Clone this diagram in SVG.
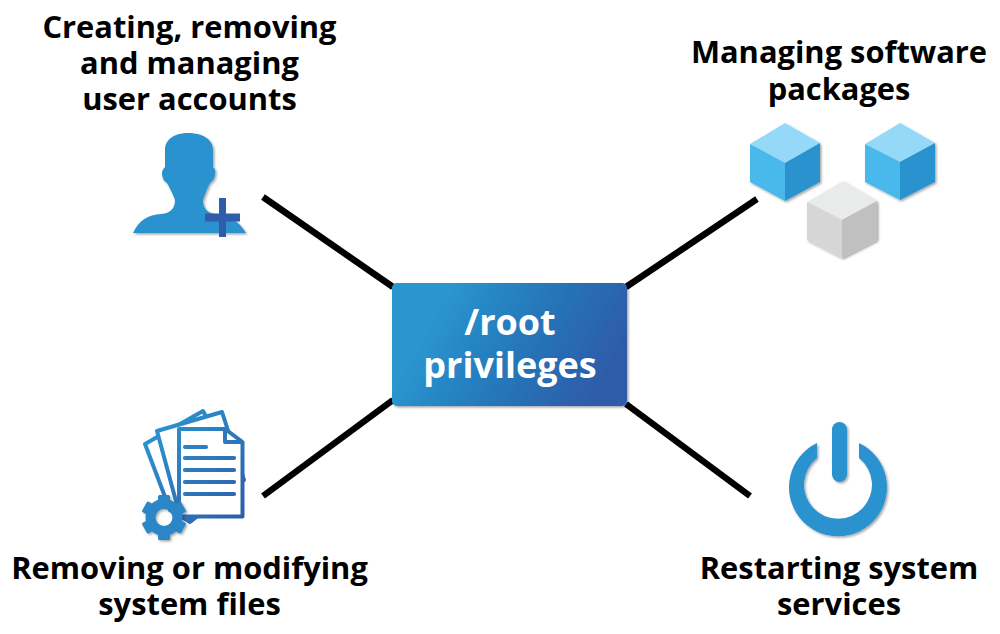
<svg xmlns="http://www.w3.org/2000/svg" width="1000" height="634" viewBox="0 0 1000 634">
<style>
.lbl{font-family:"Open Sans","Liberation Sans",sans-serif;font-weight:700;font-size:30.850px;fill:#000;text-anchor:middle}
.ctr{font-family:"Open Sans","Liberation Sans",sans-serif;font-weight:700;font-size:36px;fill:#fff;text-anchor:middle}
.conn{stroke:#000;stroke-width:6.500;fill:none}
.doc{fill:#fff;stroke:url(#gDoc);stroke-width:4;stroke-linejoin:round}
.ln{stroke:url(#gDoc);stroke-width:4.200;stroke-linecap:round;fill:none}
</style>
<defs>
<linearGradient id="gBox" gradientUnits="userSpaceOnUse" x1="440" y1="300" x2="600" y2="390">
<stop offset="0" stop-color="#2a96d0"/><stop offset=".5" stop-color="#2577ba"/><stop offset="1" stop-color="#2f5ba8"/>
</linearGradient>
<linearGradient id="gDoc" gradientUnits="userSpaceOnUse" x1="145" y1="430" x2="245" y2="520">
<stop offset="0" stop-color="#2a96d0"/><stop offset="1" stop-color="#2f5ba8"/>
</linearGradient>
<filter id="sh" x="-10%" y="-10%" width="125%" height="125%">
<feDropShadow dx="1.500" dy="1.500" stdDeviation="1" flood-color="#000" flood-opacity=".35"/>
</filter>
<rect id="tooth" x="158" y="495" width="12" height="14" rx="1.500"/>
</defs>
<g id="connectors">
<line class="conn" x1="263" y1="197" x2="393" y2="287"/>
<line class="conn" x1="626" y1="287" x2="757" y2="199"/>
<line class="conn" x1="263" y1="496" x2="393" y2="400"/>
<line class="conn" x1="626" y1="404" x2="750" y2="496"/>
</g>
<g id="root">
<rect x="392" y="283" width="235" height="123" rx="5" fill="url(#gBox)" filter="url(#sh)"/>
<text class="ctr" x="510" y="335">/root</text>
<text class="ctr" x="510" y="378">privileges</text>
</g>
<g id="users">
<text class="lbl" x="189.500" y="38">Creating, removing</text>
<text class="lbl" x="189.500" y="74">and managing</text>
<text class="lbl" x="189.500" y="110">user accounts</text>
<path filter="url(#sh)" fill="#2a93cf" d="M133 233C139 220 148 215 161 214C172 213 175 207 175 200C173 194 170 189 167 183C163 181 162 176 162 173C162 170 164 168 165 167L165 150C165 139 175 133 188 133C202 133 213 139 213 150L213 167C215 169 216 171 215 174C215 178 213 181 210 183C207 189 205 194 203 200C203 207 206 213 216 214C229 215 238 220 246 233Z"/>
<path fill="#2f5dab" d="M219 198h7v15.500h14v8h-14v15.500h-7v-15.500h-14v-8h14z"/>
</g>
<g id="packages">
<text class="lbl" x="839" y="63">Managing software</text>
<text class="lbl" x="839" y="100">packages</text>
<g filter="url(#sh)">
<path fill="#96d8f7" d="M785 123L820 143L785 163L750 144Z"/>
<path fill="#48b9ec" d="M750 144L785 163V201L750 182Z"/>
<path fill="#2a93cf" d="M820 143L785 163V201L820 182Z"/>
</g>
<g filter="url(#sh)">
<path fill="#96d8f7" d="M900 123L935 143L900 162L865 144Z"/>
<path fill="#48b9ec" d="M865 144L900 162V200L865 182Z"/>
<path fill="#2a93cf" d="M935 143L900 162V200L935 182Z"/>
</g>
<g filter="url(#sh)">
<path fill="#e9eaea" d="M843 181L877 201L842 220L807 202Z"/>
<path fill="#d6d6d6" d="M807 202L842 220V258L807 240Z"/>
<path fill="#c0c0c0" d="M877 201L842 220V258L877 240Z"/>
</g>
</g>
<g id="files">
<text class="lbl" x="189.500" y="579">Removing or modifying</text>
<text class="lbl" x="189.500" y="615">system files</text>
<path class="doc" d="M145 444L203 411L243 480L190 522L170 510Z"/>
<path class="doc" d="M157 431L222 412L244 480L190 520L177 505Z"/>
<path class="doc" d="M179 429H225L242.500 443V516.500H179Z"/>
<path class="doc" d="M225 429V442H242.500Z" stroke-width="3"/>
<line class="ln" x1="185" y1="447" x2="206" y2="447"/>
<line class="ln" x1="185" y1="458" x2="234" y2="458"/>
<line class="ln" x1="185" y1="470" x2="234" y2="470"/>
<line class="ln" x1="185" y1="482" x2="234" y2="482"/>
<line class="ln" x1="185" y1="494" x2="234" y2="494"/>
<g filter="url(#sh)" fill="#2a86c6">
<use href="#tooth"/>
<use href="#tooth" transform="rotate(60 164 517.500)"/>
<use href="#tooth" transform="rotate(120 164 517.500)"/>
<use href="#tooth" transform="rotate(180 164 517.500)"/>
<use href="#tooth" transform="rotate(240 164 517.500)"/>
<use href="#tooth" transform="rotate(300 164 517.500)"/>
<circle cx="164" cy="517.500" r="13.500" fill="none" stroke="#2a86c6" stroke-width="10"/>
</g>
</g>
<g id="services">
<text class="lbl" x="839" y="579">Restarting system</text>
<text class="lbl" x="839" y="615">services</text>
<g filter="url(#sh)" fill="#2a93cf">
<path d="M817 443V458A34 34 0 1 0 859 458V443A49 49 0 1 1 817 443Z"/>
<rect x="832" y="422" width="15" height="60" rx="7.500"/>
</g>
</g>
</svg>
